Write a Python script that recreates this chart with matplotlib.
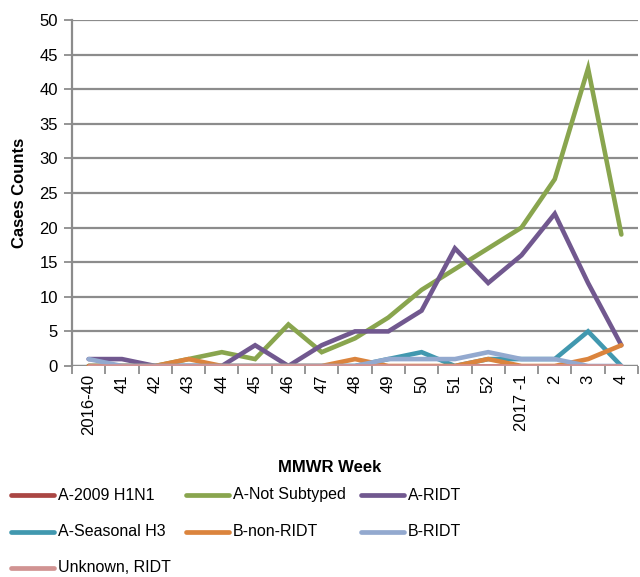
import matplotlib
matplotlib.use("Agg")
import matplotlib.pyplot as plt
from matplotlib.lines import Line2D

plt.rcParams['font.family'] = ['Liberation Sans', 'DejaVu Sans']

weeks = ["2016-40", "41", "42", "43", "44", "45", "46", "47", "48", "49",
         "50", "51", "52", "2017 -1", "2", "3", "4"]

a_h1n1 =        [0, 0, 0, 0, 0, 0, 0, 0, 0, 0, 0, 0, 0, 0, 0, 0, 0]
a_not_subtyped = [0, 0, 0, 1, 2, 1, 6, 2, 4, 7, 11, 14, 17, 20, 27, 43, 19]
a_ridt =        [1, 1, 0, 0, 0, 3, 0, 3, 5, 5, 8, 17, 12, 16, 22, 12, 3]
a_h3 =          [0, 0, 0, 0, 0, 0, 0, 0, 0, 1, 2, 0, 1, 1, 1, 5, 0]
b_non_ridt =    [0, 0, 0, 1, 0, 0, 0, 0, 1, 0, 0, 0, 1, 0, 0, 1, 3]
b_ridt =        [1, 0, 0, 0, 0, 0, 0, 0, 0, 1, 1, 1, 2, 1, 1, 0, 0]
unknown_ridt =  [0, 0, 0, 0, 0, 0, 0, 0, 0, 0, 0, 0, 0, 0, 0, 0, 0]

series = [
    ("A-2009 H1N1", a_h1n1, "#AA4643"),
    ("A-Not Subtyped", a_not_subtyped, "#89A54E"),
    ("A-RIDT", a_ridt, "#71588F"),
    ("A-Seasonal H3", a_h3, "#4198AF"),
    ("B-non-RIDT", b_non_ridt, "#DB843D"),
    ("B-RIDT", b_ridt, "#93A9CF"),
    ("Unknown, RIDT", unknown_ridt, "#D19392"),
]

W, H = 640, 577
fig = plt.figure(figsize=(6.4, 5.77), dpi=100)
ax = fig.add_axes([72/W, 1-366/H, (638-72)/W, (366-20)/H])

x = list(range(len(weeks)))
for name, vals, col in series:
    ax.plot(x, vals, color=col, lw=3.3, solid_capstyle='round',
            solid_joinstyle='miter', label=name)

ax.set_xlim(-0.5, len(weeks)-0.5)
ax.set_ylim(0, 50)
ax.set_yticks(range(0, 51, 5))
ax.yaxis.grid(True, color="#8C8C8C", lw=1.6)
ax.set_axisbelow(True)
for s in ["top", "right", "bottom"]:
    ax.spines[s].set_visible(False)
ax.spines["left"].set_color("#8C8C8C")
ax.spines["left"].set_linewidth(1.6)
ax.axhline(0, color="#8C8C8C", lw=1.6, zorder=0.5)
ax.tick_params(axis="y", length=6, width=1.3, color="#8C8C8C", labelsize=12, pad=4)

ax.set_xticks(x)
ax.set_xticklabels(weeks, rotation=90, fontsize=12)
ax.tick_params(axis="x", length=0, pad=6)
ax.set_xticks([i + 0.5 for i in range(-1, len(weeks))], minor=True)
ax.tick_params(axis="x", which="minor", length=6, width=1.3, color="#8C8C8C")

ax.set_ylabel("Cases Counts", fontsize=12, fontweight="bold", labelpad=9)
fig.text(330/W, 1-467/H, "MMWR Week", fontsize=12, fontweight="bold",
         ha="center", va="center")

# Legend laid out row by row, three per row
col_x = [11, 186, 361]
row_y = [495, 532, 568]
for i, (name, vals, col) in enumerate(series):
    r, c = divmod(i, 3)
    x0 = col_x[c]
    y0 = row_y[r]
    fig.add_artist(Line2D([x0/W, (x0+43)/W], [1-y0/H, 1-y0/H], color=col,
                          lw=3.4, solid_capstyle='round', transform=fig.transFigure))
    fig.text((x0+47)/W, 1-y0/H, name, fontsize=11.5, ha="left", va="center")

fig.savefig("out.png", dpi=100)
